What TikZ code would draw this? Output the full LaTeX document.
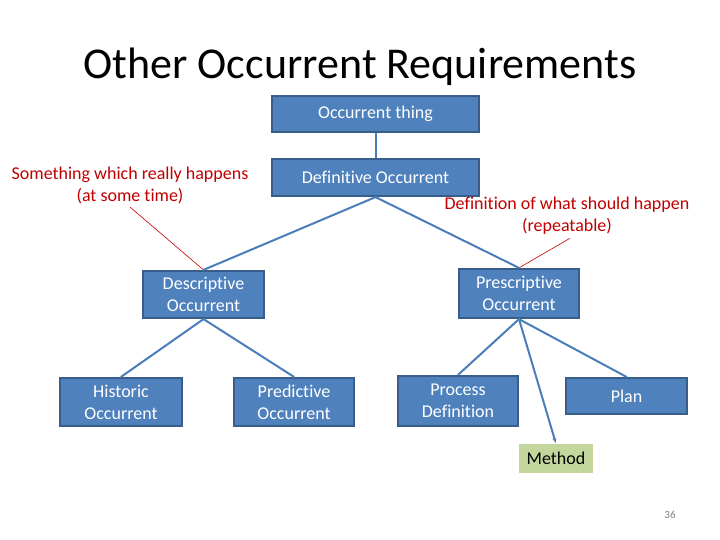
\documentclass[tikz,border=0pt]{standalone}
\usepackage{fontspec}
\setmainfont[Ligatures=NoCommon]{Carlito}
\usetikzlibrary{arrows.meta}
\definecolor{boxfill}{HTML}{4F81BD}
\definecolor{boxline}{HTML}{385D8A}
\definecolor{linkblue}{HTML}{4A7EBB}
\definecolor{notered}{HTML}{C00000}
\definecolor{methodfill}{HTML}{C3D69B}

\begin{document}
\begin{tikzpicture}[x=1pt,y=-1pt,>={Stealth[length=5pt,width=4pt]},
  occ/.style={draw=boxline,fill=boxfill,line width=2.2pt,text=white,align=center,
    inner sep=2pt,font=\fontsize{18}{22}\selectfont},
  note/.style={text=notered,align=center,font=\fontsize{18}{22}\selectfont},
  link/.style={draw=linkblue,line width=2pt,line cap=round},
  hint/.style={draw=notered,line width=0.6pt}]
\useasboundingbox (0,0) rectangle (720,540);
% ---------- title ----------
\node (title) at (360,67) {\fontsize{44}{50}\selectfont Other Occurrent Requirements};
% ---------- boxes ----------
\node[occ,minimum width=207,minimum height=36] (thing) at (375.5,114) {Occurrent thing};
\node[occ,minimum width=207,minimum height=37] (defn) at (375.5,177.5) {Definitive Occurrent};
\node[occ,minimum width=121,minimum height=47] (desc) at (203.5,294.5) {Descriptive\\Occurrent};
\node[occ,minimum width=120,minimum height=49] (presc) at (519,293.5) {Prescriptive\\Occurrent};
\node[occ,minimum width=122,minimum height=48] (hist) at (121,402) {Historic\\Occurrent};
\node[occ,minimum width=120,minimum height=48] (pred) at (294,402) {Predictive\\Occurrent};
\node[occ,minimum width=120,minimum height=50] (proc) at (458,401) {Process\\Definition};
\node[occ,minimum width=121,minimum height=36] (plan) at (626.5,396) {Plan};
\node[fill=methodfill,minimum width=74,minimum height=29,inner sep=2pt,
  font=\fontsize{18}{22}\selectfont] (method) at (556,458.5) {Method};
% ---------- red notes ----------
\node[note] (happens) at (130,185) {Something which really happens\\(at some time)};
\node[note] (should) at (567,216) {Definition of what should happen\\(repeatable)};
\draw[hint] (happens.south) -- (desc.north);
\draw[hint] ([xshift=3]should.south) -- (presc.north);
% ---------- links ----------
\draw[link] (thing.south) -- (defn.north);
\foreach \kid in {desc,presc}
  \draw[link] (defn.south) -- (\kid.north);
\foreach \kid in {hist,pred}
  \draw[link] (desc.south) -- (\kid.north);
\foreach \kid in {proc,plan}
  \draw[link] (presc.south) -- (\kid.north);
\draw[link,->,shorten >=1pt] (presc.south) -- (method.north);
% ---------- page number ----------
\node[text=gray,font=\fontsize{11}{12}\selectfont] (page) at (670,515) {36};
\end{tikzpicture}
\end{document}
